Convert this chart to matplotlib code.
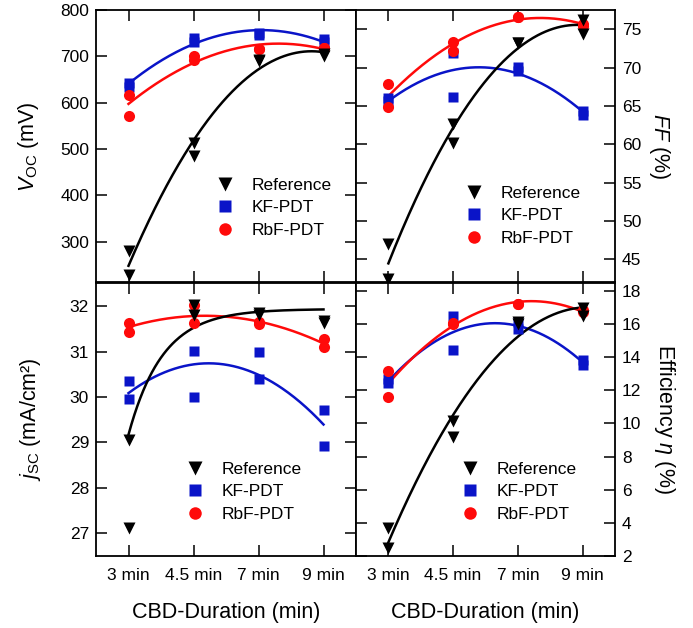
import numpy as np
import matplotlib
matplotlib.use('Agg')
import matplotlib.pyplot as plt
from matplotlib.lines import Line2D

plt.rcParams['font.family'] = ['Liberation Sans', 'DejaVu Sans']
plt.rcParams['mathtext.fontset'] = 'custom'
plt.rcParams['mathtext.rm'] = 'Liberation Sans'
plt.rcParams['mathtext.it'] = 'Liberation Sans:italic'
plt.rcParams['mathtext.bf'] = 'Liberation Sans:bold'

# ---------------- data ----------------
durations = ['3 min', '4.5 min', '7 min', '9 min']
# two samples per CBD duration: category index of each sample
sample_idx = [0, 0, 1, 1, 2, 2, 3, 3]

voc_ref = [281, 228, 512, 486, 693, 690, 705, 700]
voc_kf = [643, 633, 740, 730, 751, 745, 737, 731]
voc_rb = [616, 572, 700, 692, 715, 715, 719, 719]

ff_ref = [47.05, 42.4, 62.7, 60.2, 73.2, 73.2, 76.2, 74.4]
ff_kf = [66.0, 65.7, 71.9, 66.2, 70.1, 69.6, 64.3, 63.8]
ff_rb = [67.9, 64.9, 73.3, 72.2, 76.6, 76.6, 75.7, 75.4]

jsc_ref = [29.06, 27.11, 32.02, 31.8, 31.85, 31.8, 31.67, 31.62]
jsc_kf = [30.35, 29.96, 31.02, 30.0, 30.99, 30.4, 29.72, 28.93]
jsc_rb = [31.62, 31.43, 32.02, 31.62, 31.65, 31.6, 31.28, 31.1]
# the lowest 3-min reference j_SC sample is left out of its guide curve
jsc_ref_in_fit = [True, False, True, True, True, True, True, True]

eff_ref = [3.7, 2.5, 10.17, 9.2, 16.12, 16.0, 16.94, 16.5]
eff_kf = [12.69, 12.43, 16.49, 14.45, 16.12, 15.72, 13.85, 13.5]
eff_rb = [13.16, 11.58, 16.06, 15.98, 17.2, 17.2, 16.83, 16.73]

series_names = ['Reference', 'KF-PDT', 'RbF-PDT']
colors = {'Reference': 'black', 'KF-PDT': '#0a14c8', 'RbF-PDT': '#ff0a0a'}
markers = {'Reference': 'v', 'KF-PDT': 's', 'RbF-PDT': 'o'}
msizes = {'Reference': 9, 'KF-PDT': 7.5, 'RbF-PDT': 8}

# ---------------- helpers ----------------
def quad_curve(x, y):
    c = np.polyfit(x, y, 2)
    xs = np.linspace(0, 3, 200)
    return xs, np.polyval(c, xs)

def sat_curve(x, y, cmax=1.9):
    x = np.asarray(x, float); y = np.asarray(y, float)
    best = None
    for c in np.linspace(0.2, cmax, 300):
        A = np.column_stack([np.ones_like(x), -np.exp(-c * x)])
        coef, *_ = np.linalg.lstsq(A, y, rcond=None)
        r = np.sum((A @ coef - y) ** 2)
        if best is None or r < best[0]:
            best = (r, c, coef)
    _, c, coef = best
    xs = np.linspace(0, 3, 200)
    return xs, coef[0] - coef[1] * np.exp(-c * xs)

W, H = 693, 628
fig = plt.figure(figsize=(W / 100, H / 100), dpi=100)

def rect(l, t, r, b):
    return [l / W, 1 - b / H, (r - l) / W, (b - t) / H]

ax1 = fig.add_axes(rect(96, 10, 356, 282.5))
ax2 = fig.add_axes(rect(356, 10, 615, 282.5))
ax3 = fig.add_axes(rect(96, 282.5, 356, 556))
ax4 = fig.add_axes(rect(356, 282.5, 615, 556))

panels = [
    (ax1, {'Reference': voc_ref, 'KF-PDT': voc_kf, 'RbF-PDT': voc_rb}, (212, 800), np.arange(300, 801, 100)),
    (ax2, {'Reference': ff_ref, 'KF-PDT': ff_kf, 'RbF-PDT': ff_rb}, (42, 77.5), np.arange(45, 76, 5)),
    (ax3, {'Reference': jsc_ref, 'KF-PDT': jsc_kf, 'RbF-PDT': jsc_rb}, (26.5, 32.52), np.arange(27, 33, 1)),
    (ax4, {'Reference': eff_ref, 'KF-PDT': eff_kf, 'RbF-PDT': eff_rb}, (2, 18.5), np.arange(2, 19, 2)),
]
anchors = {ax1: (0.455, 0.385), ax2: (0.415, 0.355), ax3: (0.34, 0.345), ax4: (0.40, 0.345)}

for ax, data, ylim, yt in panels:
    x = np.array(sample_idx, float)
    # guide curves
    for name in ['KF-PDT', 'RbF-PDT', 'Reference']:
        y = np.array(data[name], float)
        if ax is ax3 and name == 'Reference':
            m = np.array(jsc_ref_in_fit)
            xs, ys = sat_curve(x[m], y[m])
        else:
            xs, ys = quad_curve(x, y)
        ax.plot(xs, ys, color=colors[name], lw=1.8, zorder=2)
    for name in ['KF-PDT', 'RbF-PDT', 'Reference']:
        ax.plot(x, data[name], ls='none', marker=markers[name], ms=msizes[name],
                color=colors[name], mec='none', zorder=3)
    ax.set_xlim(-0.5, 3.5)
    ax.set_ylim(*ylim)
    ax.set_yticks(yt)
    ax.set_xticks(range(len(durations)))
    ax.set_xticklabels(durations)
    ax.tick_params(direction='in', top=True, right=True, bottom=True, left=True,
                   length=8, width=1.1, labelsize=12.5, pad=5)
    ax.tick_params(axis='x', pad=9)
    for s in ax.spines.values():
        s.set_linewidth(1.3)
    handles = [Line2D([], [], ls='none', marker=markers[n], ms=msizes[n] + 1,
                      color=colors[n], mec='none') for n in series_names]
    ax.legend(handles, series_names, loc='upper left', bbox_to_anchor=anchors[ax],
              frameon=False, fontsize=12.5, handlelength=1.2, handletextpad=0.95,
              labelspacing=0.42, borderpad=0, borderaxespad=0)

ax1.tick_params(labelbottom=False)
ax2.tick_params(labelbottom=False, labelleft=False, labelright=True)
ax4.tick_params(labelleft=False, labelright=True)

ax1.set_ylabel(r'$V_{\mathrm{OC}}$ (mV)', fontsize=15.5)
ax3.set_ylabel(r'$j_{\mathrm{SC}}$ (mA/cm²)', fontsize=15.5)
ax1.yaxis.set_label_coords(-0.21, 0.5)
ax3.yaxis.set_label_coords(-0.205, 0.5)

ax2.yaxis.set_label_position('right')
ax2.set_ylabel(r'$FF$ (%)', fontsize=15.5, rotation=270, va='center')
ax2.yaxis.set_label_coords(1.17, 0.5)
ax4.yaxis.set_label_position('right')
ax4.set_ylabel(r'Efficiency $\eta$ (%)', fontsize=15.5, rotation=270, va='center')
ax4.yaxis.set_label_coords(1.19, 0.5)

ax3.set_xlabel('CBD-Duration (min)', fontsize=15.5, labelpad=13)
ax4.set_xlabel('CBD-Duration (min)', fontsize=15.5, labelpad=13)

fig.savefig('out.png', dpi=100)
